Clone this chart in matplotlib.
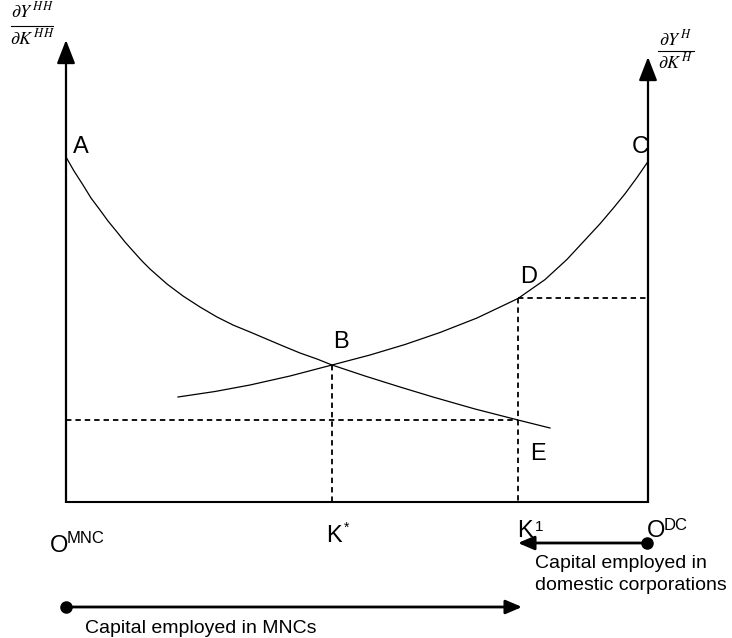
import matplotlib.pyplot as plt

plt.rcParams['font.family'] = ['Liberation Sans', 'DejaVu Sans']
plt.rcParams['mathtext.fontset'] = 'stix'

# diagram (x to the right, y downwards)
x_mnc, x_dc, y_base = 66, 648, 502
y_top_left, y_top_right = 40, 57

# MPK of MNCs (curve from A through B to E)
mnc_x = [66, 74, 83, 91, 100, 108, 117, 125, 133, 142, 150, 167, 183, 200, 217,
         233, 250, 283, 300, 317, 332, 365, 400, 433, 475, 518, 550]
mnc_y = [157, 171, 185, 198, 210, 221, 232, 242, 251, 261, 269, 284, 296, 307, 317,
         325, 332, 346, 353, 359, 365, 376, 387, 397, 409, 420, 428]

# MPK of domestic corporations (curve through B, D to C)
dc_x = [178, 215, 250, 290, 332, 370, 405, 440, 477, 518, 545, 567, 585, 600,
        613, 625, 637, 647]
dc_y = [397, 391.5, 385, 376, 365, 355, 344.5, 332.5, 318, 298.5, 279.6, 259.4,
        240, 223.8, 208.5, 193.8, 177.5, 163]

k_star, b_level = 332, 365
k_one, d_level, e_level = 518, 298, 420

point_labels = ["A", "B", "C", "D", "E"]
point_pos = [(73, 153), (333, 348), (632, 153), (520, 283), (530, 460)]

fig = plt.figure(figsize=(7.32, 6.38), dpi=100)
ax = fig.add_axes([0, 0, 1, 1])
ax.set_xlim(0, 732)
ax.set_ylim(638, 0)
ax.axis('off')

# axes box
ax.plot([x_mnc, x_dc], [y_base, y_base], color='black', lw=1.5, solid_capstyle='butt')
for x, ytop in [(x_mnc, y_top_left), (x_dc, y_top_right)]:
    ax.plot([x, x], [y_base + 1, ytop + 12], color='black', lw=1.6, solid_capstyle='butt')
    ax.annotate('', xy=(x, ytop), xytext=(x, ytop + 14),
                arrowprops=dict(arrowstyle='-|>,head_length=0.9,head_width=0.35',
                                color='black', lw=1.6, mutation_scale=16,
                                shrinkA=0, shrinkB=0))

# curves
ax.plot(mnc_x, mnc_y, color='black', lw=0.9)
ax.plot(dc_x, dc_y, color='black', lw=0.9)

# dashed guides
dash = dict(color='black', lw=1.3, linestyle=(0, (3, 2.2)))
ax.plot([k_star, k_star], [b_level, y_base], **dash)
ax.plot([k_one, k_one], [d_level, y_base], **dash)
ax.plot([x_mnc, k_one], [e_level, e_level], **dash)
ax.plot([k_one, x_dc], [d_level, d_level], **dash)

for lab, (x, y) in zip(point_labels, point_pos):
    ax.text(x, y, lab, fontsize=17, ha='left', va='baseline')

# fractions at the top of the axes
ax.text(32, 17, r'$\partial Y^{\,HH}$', fontsize=13, ha='center', va='baseline')
ax.plot([11, 53], [26, 26], color='black', lw=0.8)
ax.text(32, 44, r'$\partial K^{\,HH}$', fontsize=13, ha='center', va='baseline')

ax.text(676, 45, r'$\partial Y^{\,H}$', fontsize=13, ha='center', va='baseline')
ax.plot([658, 694], [51, 51], color='black', lw=0.8)
ax.text(676, 68, r'$\partial K^{\,H}$', fontsize=13, ha='center', va='baseline')

# bottom labels
ax.text(50, 552, "O", fontsize=17, ha='left', va='baseline')
ax.text(67, 543, "MNC", fontsize=12, ha='left', va='baseline')
ax.text(326, 542, "K", fontsize=17, ha='left', va='baseline')
ax.text(344, 532, "*", fontsize=10, ha='left', va='baseline')
ax.text(517, 537, "K", fontsize=17, ha='left', va='baseline')
ax.text(535, 531, "1", fontsize=11, ha='left', va='baseline')
ax.text(647, 537, "O", fontsize=17, ha='left', va='baseline')
ax.text(664, 530, "DC", fontsize=12, ha='left', va='baseline')

# capital arrows
ax.annotate('', xy=(k_one, 543), xytext=(x_dc - 1, 543),
            arrowprops=dict(arrowstyle='-|>,head_length=0.7,head_width=0.3',
                            color='black', lw=2, mutation_scale=14,
                            shrinkA=0, shrinkB=0))
ax.plot([x_dc - 1], [543], 'o', color='black', markersize=8)
ax.text(535, 568, "Capital employed in", fontsize=14, ha='left', va='baseline')
ax.text(535, 590, "domestic corporations", fontsize=14, ha='left', va='baseline')

ax.annotate('', xy=(522, 607), xytext=(x_mnc, 607),
            arrowprops=dict(arrowstyle='-|>,head_length=0.7,head_width=0.3',
                            color='black', lw=2, mutation_scale=14,
                            shrinkA=0, shrinkB=0))
ax.plot([x_mnc], [607], 'o', color='black', markersize=8)
ax.text(85, 633, "Capital employed in MNCs", fontsize=14, ha='left', va='baseline')

fig.savefig("out.png", dpi=100)
